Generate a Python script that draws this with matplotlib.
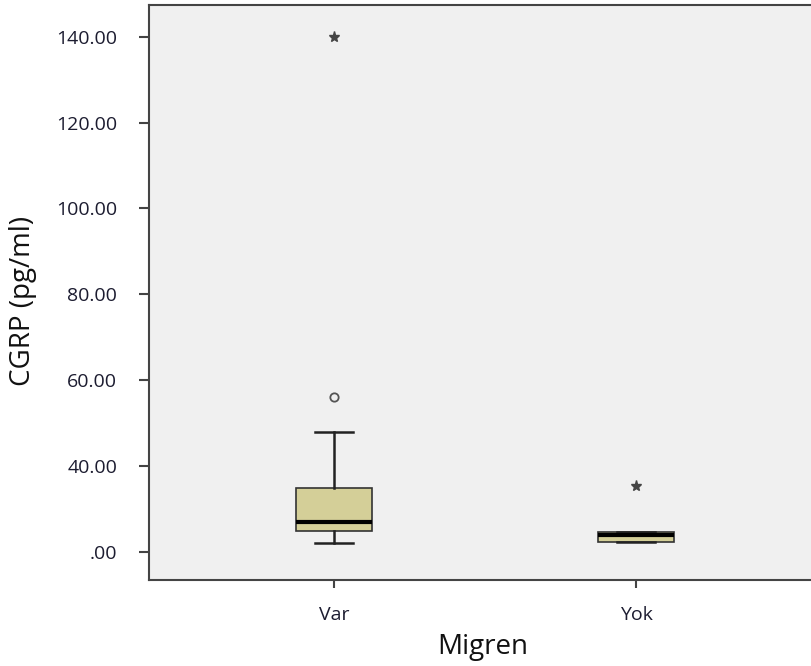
import matplotlib
matplotlib.use("Agg")
import matplotlib.pyplot as plt

plt.rcParams['font.family'] = ['Open Sans', 'DejaVu Sans']

# data (axis units, ticks every 20)
groups = ["Var", "Yok"]
q1 = [4.9, 2.3]
med = [7.0, 3.9]
q3 = [14.85, 4.7]
whislo = [2.0, 2.3]
whishi = [28.0, 4.7]
mild_out = [[36.1], []]      # circles
extreme_out = [[120.0], [15.3]]  # stars

tick_vals = [0, 20, 40, 60, 80, 100, 120]
tick_labels = [".00", "40.00", "60.00", "80.00", "100.00", "120.00", "140.00"]

fig = plt.figure(figsize=(8.12, 6.66), dpi=100)
ax = fig.add_axes([149 / 812, 86 / 666, 667 / 812, 575 / 666])
ax.set_facecolor("#f0f0f0")

stats = []
for i, g in enumerate(groups):
    stats.append(dict(label=g, q1=q1[i], med=med[i], q3=q3[i],
                      whislo=whislo[i], whishi=whishi[i], fliers=[]))

ax.bxp(stats, positions=[1, 2], widths=0.25, patch_artist=True,
       showfliers=False,
       boxprops=dict(facecolor="#d4cf98", edgecolor="#333333", linewidth=1.2),
       medianprops=dict(color="black", linewidth=3),
       whiskerprops=dict(color="#222222", linewidth=1.8),
       capprops=dict(color="#222222", linewidth=1.8),
       capwidths=0.125)

for i in range(len(groups)):
    if mild_out[i]:
        ax.plot([i + 1] * len(mild_out[i]), mild_out[i], "o", ms=6,
                mfc="none", mec="#555555", mew=1.3)
    if extreme_out[i]:
        ax.plot([i + 1] * len(extreme_out[i]), extreme_out[i], "*", ms=8,
                color="#444444")

ax.set_xlim(0.387, 2.596)
ax.set_ylim(-6.6, 127.4)
ax.set_yticks(tick_vals)
ax.set_yticklabels(tick_labels)
ax.set_xticks([1, 2])
ax.set_xticklabels(groups)

for s in ["left", "bottom", "top"]:
    ax.spines[s].set_color("#444444")
    ax.spines[s].set_linewidth(1.5)
ax.spines["right"].set_visible(False)

ax.tick_params(axis="y", length=7, width=1.5, color="#444444",
               labelsize=14, labelcolor="#1c1c30", pad=16)
ax.tick_params(axis="x", length=6, width=1.5, color="#444444",
               labelsize=14, labelcolor="#1c1c30", pad=13)

ax.set_ylabel("CGRP (pg/ml)", fontsize=20, color="#111111")
ax.yaxis.set_label_coords(-0.168, 0.485)
ax.set_xlabel("Migren", fontsize=20, labelpad=6, color="#111111")

fig.savefig("out.png", dpi=100)
